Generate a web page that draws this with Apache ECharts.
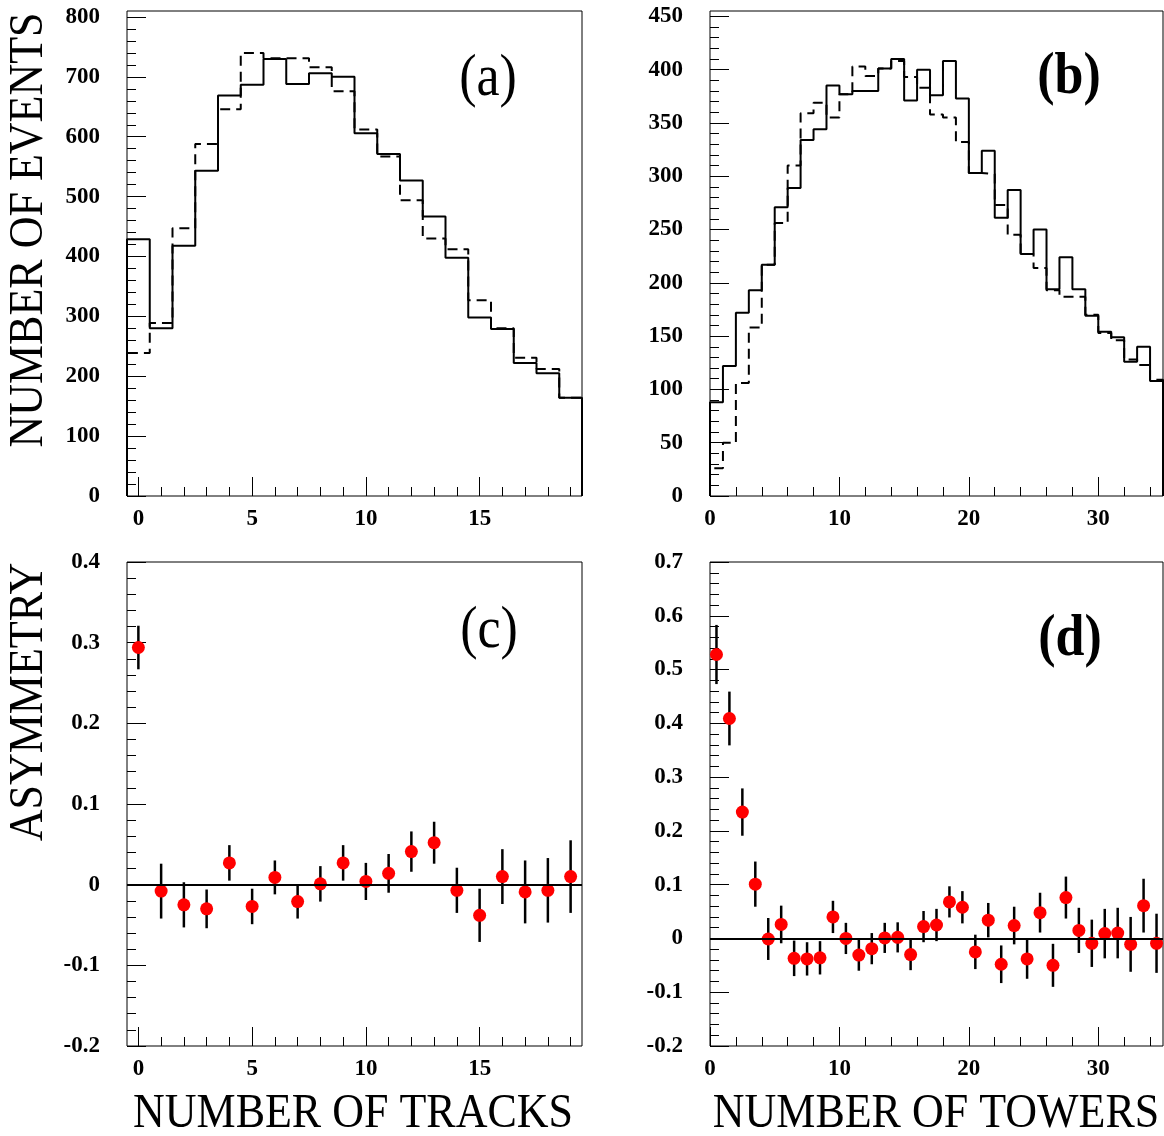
<!DOCTYPE html>
<html lang="en">
<head>
<meta charset="UTF-8">
<title>Number of tracks / towers and asymmetry</title>
<script src="https://cdn.jsdelivr.net/npm/echarts@6/dist/echarts.min.js"></script>
<style>
    * { margin: 0; padding: 0; }
    body { background: #fff; }
    #main { width: 1164px; height: 1136px; }
</style>
</head>
<body>
<div id="main"></div>
<script>
// (a) events vs number of tracks, one bin per track count 0..19
var tracksSolid  = [429, 280, 418, 543, 669, 687, 730, 688, 706, 700, 606, 571, 527, 467, 398, 298, 279, 222, 205, 164];
var tracksDashed = [239, 289, 447, 588, 646, 740, 731, 731, 716, 676, 612, 567, 494, 430, 412, 327, 280, 231, 212, 164];

// (b) events vs number of towers, bins [0,1) [1,2) ... [34,35)
var towersSolid  = [88, 122, 172, 193, 217, 271, 289, 334, 344, 385, 377, 380, 380, 401, 410, 371, 400, 376,
                    408, 373, 303, 324, 261, 287, 227, 250, 194, 224, 194, 169, 154, 149, 126, 140, 108];
var towersDashed = [26, 50, 106, 158, 217, 256, 310, 359, 369, 355, 377, 403, 394, 401, 408, 393, 383, 358,
                    355, 332, 303, 302, 273, 245, 227, 214, 193, 187, 187, 170, 153, 146, 128, 123, 109];

// (c) asymmetry vs number of tracks
var trackN    = [0, 1, 2, 3, 4, 5, 6, 7, 8, 9, 10, 11, 12, 13, 14, 15, 16, 17, 18, 19];
var asymTracks = [0.294, -0.008, -0.025, -0.030, 0.027, -0.027, 0.009, -0.021, 0.001, 0.027,
                  0.004, 0.014, 0.041, 0.052, -0.007, -0.038, 0.010, -0.009, -0.007, 0.010];
var errTracks  = [0.027, 0.034, 0.028, 0.024, 0.022, 0.022, 0.021, 0.021, 0.022, 0.022,
                  0.023, 0.024, 0.025, 0.026, 0.028, 0.033, 0.034, 0.039, 0.040, 0.045];

// (d) asymmetry vs number of towers (bin centres)
var asymTowers = [0.528, 0.409, 0.235, 0.101, -0.001, 0.026, -0.037, -0.038, -0.036, 0.040,
                  0.000, -0.031, -0.019, 0.001, 0.002, -0.030, 0.022, 0.025, 0.068, 0.058,
                  -0.025, 0.034, -0.048, 0.024, -0.038, 0.048, -0.050, 0.076, 0.015, -0.009,
                  0.009, 0.010, -0.011, 0.061, -0.009];
var errTowers  = [0.055, 0.050, 0.044, 0.042, 0.039, 0.035, 0.033, 0.031, 0.031, 0.030,
                  0.029, 0.029, 0.029, 0.028, 0.028, 0.029, 0.029, 0.030, 0.029, 0.030,
                  0.032, 0.032, 0.035, 0.035, 0.037, 0.037, 0.040, 0.039, 0.042, 0.044,
                  0.046, 0.047, 0.051, 0.050, 0.055];

// tick labels
var trackTicks = [0, 5, 10, 15];
var towerTicks = [0, 10, 20, 30];
var eventTicksA = [0, 100, 200, 300, 400, 500, 600, 700, 800];
var eventTicksB = [0, 50, 100, 150, 200, 250, 300, 350, 400, 450];
var asymTicksC = [-0.2, -0.1, 0, 0.1, 0.2, 0.3, 0.4];
var asymTicksD = [-0.2, -0.1, 0, 0.1, 0.2, 0.3, 0.4, 0.5, 0.6, 0.7];

var SERIF = "'Liberation Serif', 'DejaVu Serif', serif";

function range(a, b, step) {
    var out = [];
    for (var v = a; v <= b + step / 1000; v += step) out.push(Math.round(v * 1000) / 1000);
    return out;
}

// histogram outline from bin contents
function stepData(lo, width, vals) {
    var pts = [[lo, 0]];
    vals.forEach(function (v, i) { pts.push([lo + i * width, v]); });
    var hi = lo + vals.length * width;
    pts.push([hi, vals[vals.length - 1]]);
    pts.push([hi, 0]);
    return pts;
}

var myChart = echarts.init(document.getElementById('main'));

var grids = [
    { left: 127, top: 11, width: 455, height: 485 },
    { left: 710, top: 11, width: 453, height: 485 },
    { left: 127, top: 562, width: 455, height: 484 },
    { left: 710, top: 562, width: 453, height: 484 }
].map(function (g) {
    return Object.assign({ show: true, borderColor: '#000', borderWidth: 1, backgroundColor: '#fff' }, g);
});

function labelFmt(v) {
    if (Math.abs(v) < 1e-9) return '0';
    return Math.abs(v) < 1 ? v.toFixed(1) : String(v);
}

function majorAxis(g, min, max, ticks, isY) {
    return {
        type: 'value', gridIndex: g, min: min, max: max,
        position: isY ? 'left' : 'bottom',
        axisLine: { show: false, onZero: false },
        splitLine: { show: false },
        axisTick: { inside: true, length: 19, customValues: ticks, lineStyle: { color: '#000', width: 1 } },
        axisLabel: {
            customValues: ticks, formatter: labelFmt,
            margin: isY ? 27 : 12,
            color: '#000', fontFamily: SERIF, fontWeight: 'bold', fontSize: 23
        }
    };
}

function minorAxis(g, min, max, ticks, isY) {
    return {
        type: 'value', gridIndex: g, min: min, max: max,
        position: isY ? 'left' : 'bottom',
        axisLine: { show: false, onZero: false },
        splitLine: { show: false },
        axisTick: { inside: true, length: 9, customValues: ticks, lineStyle: { color: '#000', width: 1 } },
        axisLabel: { show: false }
    };
}

var xAxes = [
    majorAxis(0, -0.5, 19.5, trackTicks, false), minorAxis(0, -0.5, 19.5, range(0, 19, 1), false),
    majorAxis(1, 0, 35, towerTicks, false),      minorAxis(1, 0, 35, range(0, 34, 2), false),
    majorAxis(2, -0.5, 19.5, trackTicks, false), minorAxis(2, -0.5, 19.5, range(0, 19, 1), false),
    majorAxis(3, 0, 35, towerTicks, false),      minorAxis(3, 0, 35, range(0, 34, 2), false)
];
var yAxes = [
    majorAxis(0, 0, 810, eventTicksA, true),  minorAxis(0, 0, 810, range(0, 800, 20), true),
    majorAxis(1, 0, 455, eventTicksB, true),  minorAxis(1, 0, 455, range(0, 450, 10), true),
    majorAxis(2, -0.2, 0.4, asymTicksC, true), minorAxis(2, -0.2, 0.4, range(-0.2, 0.4, 0.02), true),
    majorAxis(3, -0.2, 0.7, asymTicksD, true), minorAxis(3, -0.2, 0.7, range(-0.2, 0.7, 0.02), true)
];

function histSeries(ax, data, dashed) {
    return {
        type: 'line', xAxisIndex: ax, yAxisIndex: ax, step: 'end',
        symbol: 'none', silent: true, z: dashed ? 2 : 3,
        lineStyle: { color: '#000', width: 2, type: dashed ? [10, 6] : 'solid' },
        data: data
    };
}

function errorBars(ax, xs, ys, es) {
    return {
        type: 'custom', xAxisIndex: ax, yAxisIndex: ax, z: 3, silent: true,
        renderItem: function (params, api) {
            var top = api.coord([api.value(0), api.value(1) + api.value(2)]);
            var bot = api.coord([api.value(0), api.value(1) - api.value(2)]);
            return {
                type: 'line',
                shape: { x1: top[0], y1: top[1], x2: bot[0], y2: bot[1] },
                style: { stroke: '#000', lineWidth: 2.5 }
            };
        },
        data: xs.map(function (x, i) { return [x, ys[i], es[i]]; })
    };
}

function points(ax, xs, ys) {
    return {
        type: 'scatter', xAxisIndex: ax, yAxisIndex: ax, z: 4,
        symbol: 'circle', symbolSize: 13,
        itemStyle: { color: '#ff0000', opacity: 1 },
        data: xs.map(function (x, i) { return [x, ys[i]]; }),
        markLine: {
            silent: true, symbol: 'none', label: { show: false },
            lineStyle: { color: '#000', width: 2, type: 'solid' },
            data: [{ yAxis: 0 }]
        }
    };
}

var towerCentres = towersSolid.map(function (v, i) { return i + 0.5; });

function txt(x, y, s, size, bold, rot) {
    return {
        type: 'text', x: x, y: y, rotation: rot || 0, scaleY: 1.12,
        style: {
            text: s, fill: '#000', font: (bold ? 'bold ' : '') + size + 'px ' + SERIF,
            textAlign: 'center', textVerticalAlign: 'middle'
        }
    };
}

var option = {
    animation: false,
    backgroundColor: '#fff',
    grid: grids,
    xAxis: xAxes,
    yAxis: yAxes,
    series: [
        histSeries(0, stepData(-0.5, 1, tracksDashed), true),
        histSeries(0, stepData(-0.5, 1, tracksSolid), false),
        histSeries(2, stepData(0, 1, towersDashed), true),
        histSeries(2, stepData(0, 1, towersSolid), false),
        errorBars(4, trackN, asymTracks, errTracks),
        points(4, trackN, asymTracks),
        errorBars(6, towerCentres, asymTowers, errTowers),
        points(6, towerCentres, asymTowers)
    ],
    graphic: [
        txt(488, 80, '(a)', 52, false),
        txt(1069, 78, '(b)', 52, true),
        txt(489, 632, '(c)', 52, false),
        txt(1070, 640, '(d)', 52, true),
        txt(29, 230, 'NUMBER OF EVENTS', 44, false, Math.PI / 2),
        txt(29, 702, 'ASYMMETRY', 44, false, Math.PI / 2),
        txt(353, 1114, 'NUMBER OF TRACKS', 44, false),
        txt(936, 1114, 'NUMBER OF TOWERS', 44, false)
    ]
};

myChart.setOption(option);
</script>
</body>
</html>
